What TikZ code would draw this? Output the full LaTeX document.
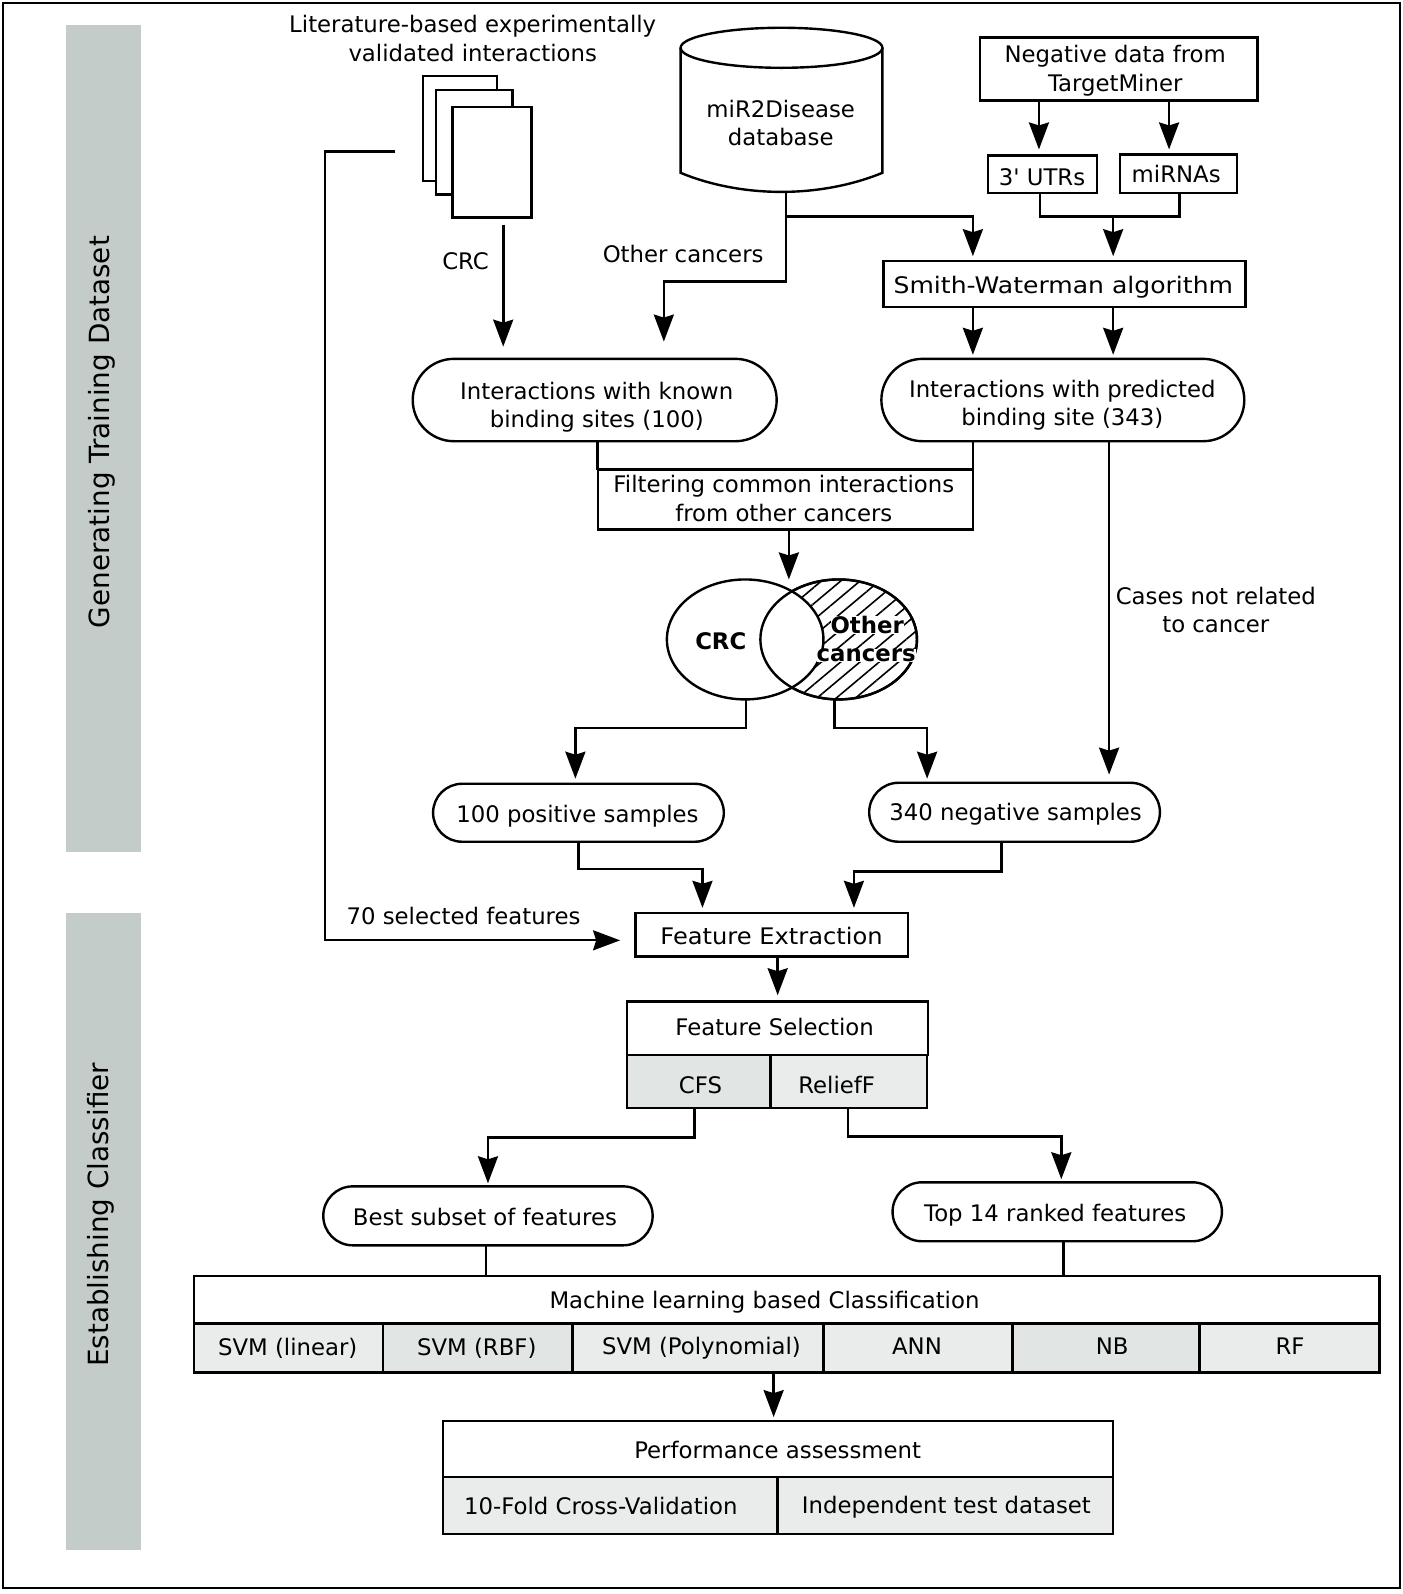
\documentclass[tikz,border=0pt]{standalone}
\usepackage{fontspec}
\setmainfont{DejaVu Sans}
\usetikzlibrary{arrows.meta,shapes.geometric,shapes.misc,patterns.meta}
\def\u{0.50835pt}
\definecolor{bandgrey}{HTML}{C3CCC9}
\definecolor{cellgrey}{HTML}{E9ECEB}
\definecolor{celldark}{HTML}{E1E5E4}
\begin{document}
\begin{tikzpicture}[x=\u,y=-\u]
        \tikzstyle{every node}=[font=\fontsize{11.4}{14.2}\selectfont,align=center,inner sep=0pt,outer sep=0pt]
        \tikzstyle{band}=[fill=bandgrey,minimum width=74*\u]
        \tikzstyle{bandtext}=[rotate=90,font=\fontsize{13.9}{16}\selectfont]
        \tikzstyle{box}=[draw,line width=1.2pt,fill=white]
        \tikzstyle{cell}=[box,fill=cellgrey]
        \tikzstyle{darkcell}=[box,fill=celldark]
        \tikzstyle{pill}=[box,rounded rectangle]
        \tikzstyle{edge}=[draw,line width=1.3pt,-{Stealth[length=13.5pt,width=10pt,inset=1.5pt]}]
        \tikzstyle{link}=[draw,line width=1.3pt]
        \tikzstyle{venn}=[draw,line width=1.2pt,ellipse,minimum width=154*\u,minimum height=118*\u]
        \tikzstyle{venntext}=[font=\fontsize{11.4}{14}\selectfont\bfseries]
        \useasboundingbox (0,0) rectangle (1380,1568);
        \draw[line width=1.3pt] (3,3) rectangle (1377,1562);
        % side bands
        \node [band,minimum height=813*\u] (train) at (102,431.5) {};
        \node [band,minimum height=627*\u] (classif) at (102,1211.5) {};
        \node [bandtext] (traintxt) at (100,425) {Generating Training Dataset};
        \node [bandtext] (classiftxt) at (99,1195) {Establishing Classifier};
        % sources
        \node (littxt) at (465,38) {Literature-based experimentally\\validated interactions};
        \node [box,minimum width=73*\u,minimum height=103*\u] (doca) at (452.5,126.5) {};
        \node [box,minimum width=75*\u,minimum height=103*\u] (docb) at (466.5,140) {};
        \node [box,minimum width=78*\u,minimum height=109*\u] (docc) at (484,159.5) {};
        \draw[line width=1.2pt] (669.5,47) -- (669.5,170) .. controls (730,195) and (807,195) .. (868,170) -- (868,47);
        \draw[line width=1.2pt] (768.75,47) ellipse [x radius=99.25,y radius=19.7];
        \node [minimum width=198*\u,minimum height=136*\u] (db) at (768,121) {miR2Disease\\database};
        \node [box,minimum width=273*\u,minimum height=62*\u] (neg) at (1100.5,68) {};
        \node (negtxt) at (1097,69.5) {Negative data from\\TargetMiner};
        \node [box,minimum width=107*\u,minimum height=37*\u] (utr) at (1025.5,171.5) {};
        \node (utrtxt) at (1025,174.5) {3\textquotesingle{} UTRs};
        \node [box,minimum width=115*\u,minimum height=38*\u] (mirna) at (1159.5,171) {};
        \node (mirnatxt) at (1157,171) {miRNAs};
        \node [box,minimum width=356*\u,minimum height=45*\u] (sw) at (1047,279.5) {};
        \node (swtxt) at (1046,282.5) {\scalebox{1.1}[1]{Smith-Waterman algorithm}};
        % interactions
        \node [pill,minimum width=358*\u,minimum height=81*\u] (known) at (585,393.5) {};
        \node (knowntxt) at (587,400.5) {Interactions with known\\binding sites (100)};
        \node [pill,minimum width=357*\u,minimum height=81*\u] (pred) at (1045.5,393.5) {};
        \node (predtxt) at (1045,398.5) {Interactions with predicted\\binding site (343)};
        \node [box,minimum width=369*\u,minimum height=59*\u] (filter) at (772.5,491.5) {};
        \node (filtertxt) at (771,490.5) {Filtering common interactions\\from other cancers};
        % venn
        \node [venn,pattern={Lines[angle=40,distance=6.2pt,line width=0.8pt]}] (other) at (825,629) {};
        \node [venn,fill=white] (crc) at (733,629) {};
        \node [venn] (otherline) at (other) {};
        \node [venntext] (crctxt) at (709,631) {CRC};
        \node [venntext,fill=white] (othertxt) at (853,615) {Other};
        \node [venntext,fill=white] (cancertxt) at (852,645) {cancers};
        % samples
        \node [pill,minimum width=286*\u,minimum height=57*\u] (pos) at (569,799.5) {};
        \node (postxt) at (568,802.5) {100 positive samples};
        \node [pill,minimum width=286*\u,minimum height=58*\u] (negs) at (998,799) {};
        \node (negstxt) at (999,801) {340 negative samples};
        \node [box,minimum width=268*\u,minimum height=43*\u] (extract) at (759,919.5) {};
        \node (extracttxt) at (759,921) {\scalebox{1.06}[1]{Feature Extraction}};
        \node [box,minimum width=296*\u,minimum height=53*\u] (select) at (765,1011.5) {};
        \node (selecttxt) at (762,1010) {Feature Selection};
        \node [darkcell,minimum width=141*\u,minimum height=52*\u] (cfs) at (687.5,1064) {};
        \node (cfstxt) at (689,1067) {CFS};
        \node [cell,minimum width=154*\u,minimum height=52*\u] (relief) at (835,1064) {};
        \node (relieftxt) at (823,1067) {ReliefF};
        \node [pill,minimum width=324*\u,minimum height=58*\u] (best) at (480,1196) {};
        \node (besttxt) at (477,1197) {Best subset of features};
        \node [pill,minimum width=324*\u,minimum height=58*\u] (top) at (1040,1192) {};
        \node (toptxt) at (1038,1195) {Top 14 ranked features};
        % classification
        \node [box,minimum width=1166*\u,minimum height=47*\u] (ml) at (774,1278.5) {};
        \node (mltxt) at (752,1280.5) {Machine learning based Classification};
        \node [cell,minimum width=186*\u,minimum height=48*\u] (svml) at (284,1326) {};
        \node (svmltxt) at (283,1326) {SVM (linear)};
        \node [darkcell,minimum width=186*\u,minimum height=48*\u] (svmr) at (470,1326) {};
        \node (svmrtxt) at (469,1326) {SVM (RBF)};
        \node [cell,minimum width=247*\u,minimum height=48*\u] (svmp) at (686.5,1326) {};
        \node (svmptxt) at (690,1326) {SVM (Polynomial)};
        \node [cell,minimum width=186*\u,minimum height=48*\u] (ann) at (903,1326) {};
        \node (anntxt) at (902,1324) {ANN};
        \node [darkcell,minimum width=184*\u,minimum height=48*\u] (nb) at (1088,1326) {};
        \node (nbtxt) at (1094,1324) {NB};
        \node [cell,minimum width=177*\u,minimum height=48*\u] (rf) at (1268.5,1326) {};
        \node (rftxt) at (1269,1324) {RF};
        \node [box,minimum width=659*\u,minimum height=55*\u] (perf) at (765.5,1425.5) {};
        \node (perftxt) at (765,1426.5) {Performance assessment};
        \node [cell,minimum width=329*\u,minimum height=56*\u] (cv) at (600.5,1481) {};
        \node (cvtxt) at (591,1481) {10-Fold Cross-Validation};
        \node [cell,minimum width=330*\u,minimum height=56*\u] (indep) at (930,1481) {};
        \node (indeptxt) at (931,1483) {Independent test dataset};
        % labels
        \node (crclab) at (458,257) {CRC};
        \node (othlab) at (672,250) {Other cancers};
        \node (caselab) at (1196,600) {Cases not related\\to cancer};
        \node (featlab) at (456,901) {70 selected features};
        % free ends and bends
        \coordinate (docout) at (389,149);
        \coordinate (docbend) at (320,925);
        \coordinate (docin) at (610,925);
        \coordinate (crcout) at (495,221);
        \coordinate (crcin) at (495,341);
        \coordinate (dbfork) at (773,213);
        \coordinate (dbbend) at (773,277);
        \coordinate (dbin) at (653,336);
        \coordinate (swin) at (957,252);
        \coordinate (utrin) at (1022,147);
        \coordinate (mirin) at (1150,147);
        \coordinate (joinl) at (1023,213);
        \coordinate (joinr) at (1160,213);
        \coordinate (joinin) at (1095,252);
        \coordinate (predl) at (957,349);
        \coordinate (predr) at (1095,349);
        \coordinate (venntop) at (776,570);
        \coordinate (crcbend) at (734,716);
        \coordinate (othbend) at (821,716);
        \coordinate (posin) at (566,766);
        \coordinate (negin) at (912,766);
        \coordinate (casein) at (1091,762);
        \coordinate (posbend) at (569,855);
        \coordinate (negbend) at (985,857);
        \coordinate (exl) at (691,893);
        \coordinate (exr) at (840,893);
        \coordinate (selin) at (765,979);
        \coordinate (cfsbend) at (683,1119);
        \coordinate (relbend) at (834,1118);
        \coordinate (bestin) at (480,1164);
        \coordinate (topin) at (1044,1160);
        \coordinate (bestx) at (478,1255);
        \coordinate (topx) at (1046,1255);
        \coordinate (perfin) at (761,1394);
        % connectors
        \path[edge,line width=1.1pt] (docout) -| (docbend) -- (docin);
        \path[edge] (crcout) -- (crcin);
        \path[edge] (dbbend |- db.south) -- (dbbend) -| (dbin);
        \path[edge] (dbfork) -| (swin);
        \path[edge] (utrin |- neg.south) -- (utrin);
        \path[edge] (mirin |- neg.south) -- (mirin);
        \path[link] (joinl |- utr.south) -- (joinl) -- (joinr) -- (joinr |- mirna.south);
        \path[edge] (joinin |- joinl) -- (joinin);
        \path[edge] (predl |- sw.south) -- (predl);
        \path[edge] (predr |- sw.south) -- (predr);
        \path[link] (filter.north west |- known.south) -- (filter.north west);
        \path[link] (filter.north east |- pred.south) -- (filter.north east);
        \path[edge] (venntop |- filter.south) -- (venntop);
        \path[edge] (casein |- pred.south) -- (casein);
        \path[edge] (crcbend |- crc.south) -- (crcbend) -| (posin);
        \path[edge] (othbend |- other.south) -- (othbend) -| (negin);
        \path[edge] (posbend |- pos.south) -- (posbend) -| (exl);
        \path[edge] (negbend |- negs.south) -- (negbend) -| (exr);
        \path[edge] (selin |- extract.south) -- (selin);
        \path[edge] (cfsbend |- cfs.south) -- (cfsbend) -| (bestin);
        \path[edge] (relbend |- relief.south) -- (relbend) -| (topin);
        \path[link] (bestx |- best.south) -- (bestx |- ml.north);
        \path[link] (topx |- top.south) -- (topx |- ml.north);
        \path[edge] (perfin |- svmp.south) -- (perfin);
      \end{tikzpicture}
\end{document}
